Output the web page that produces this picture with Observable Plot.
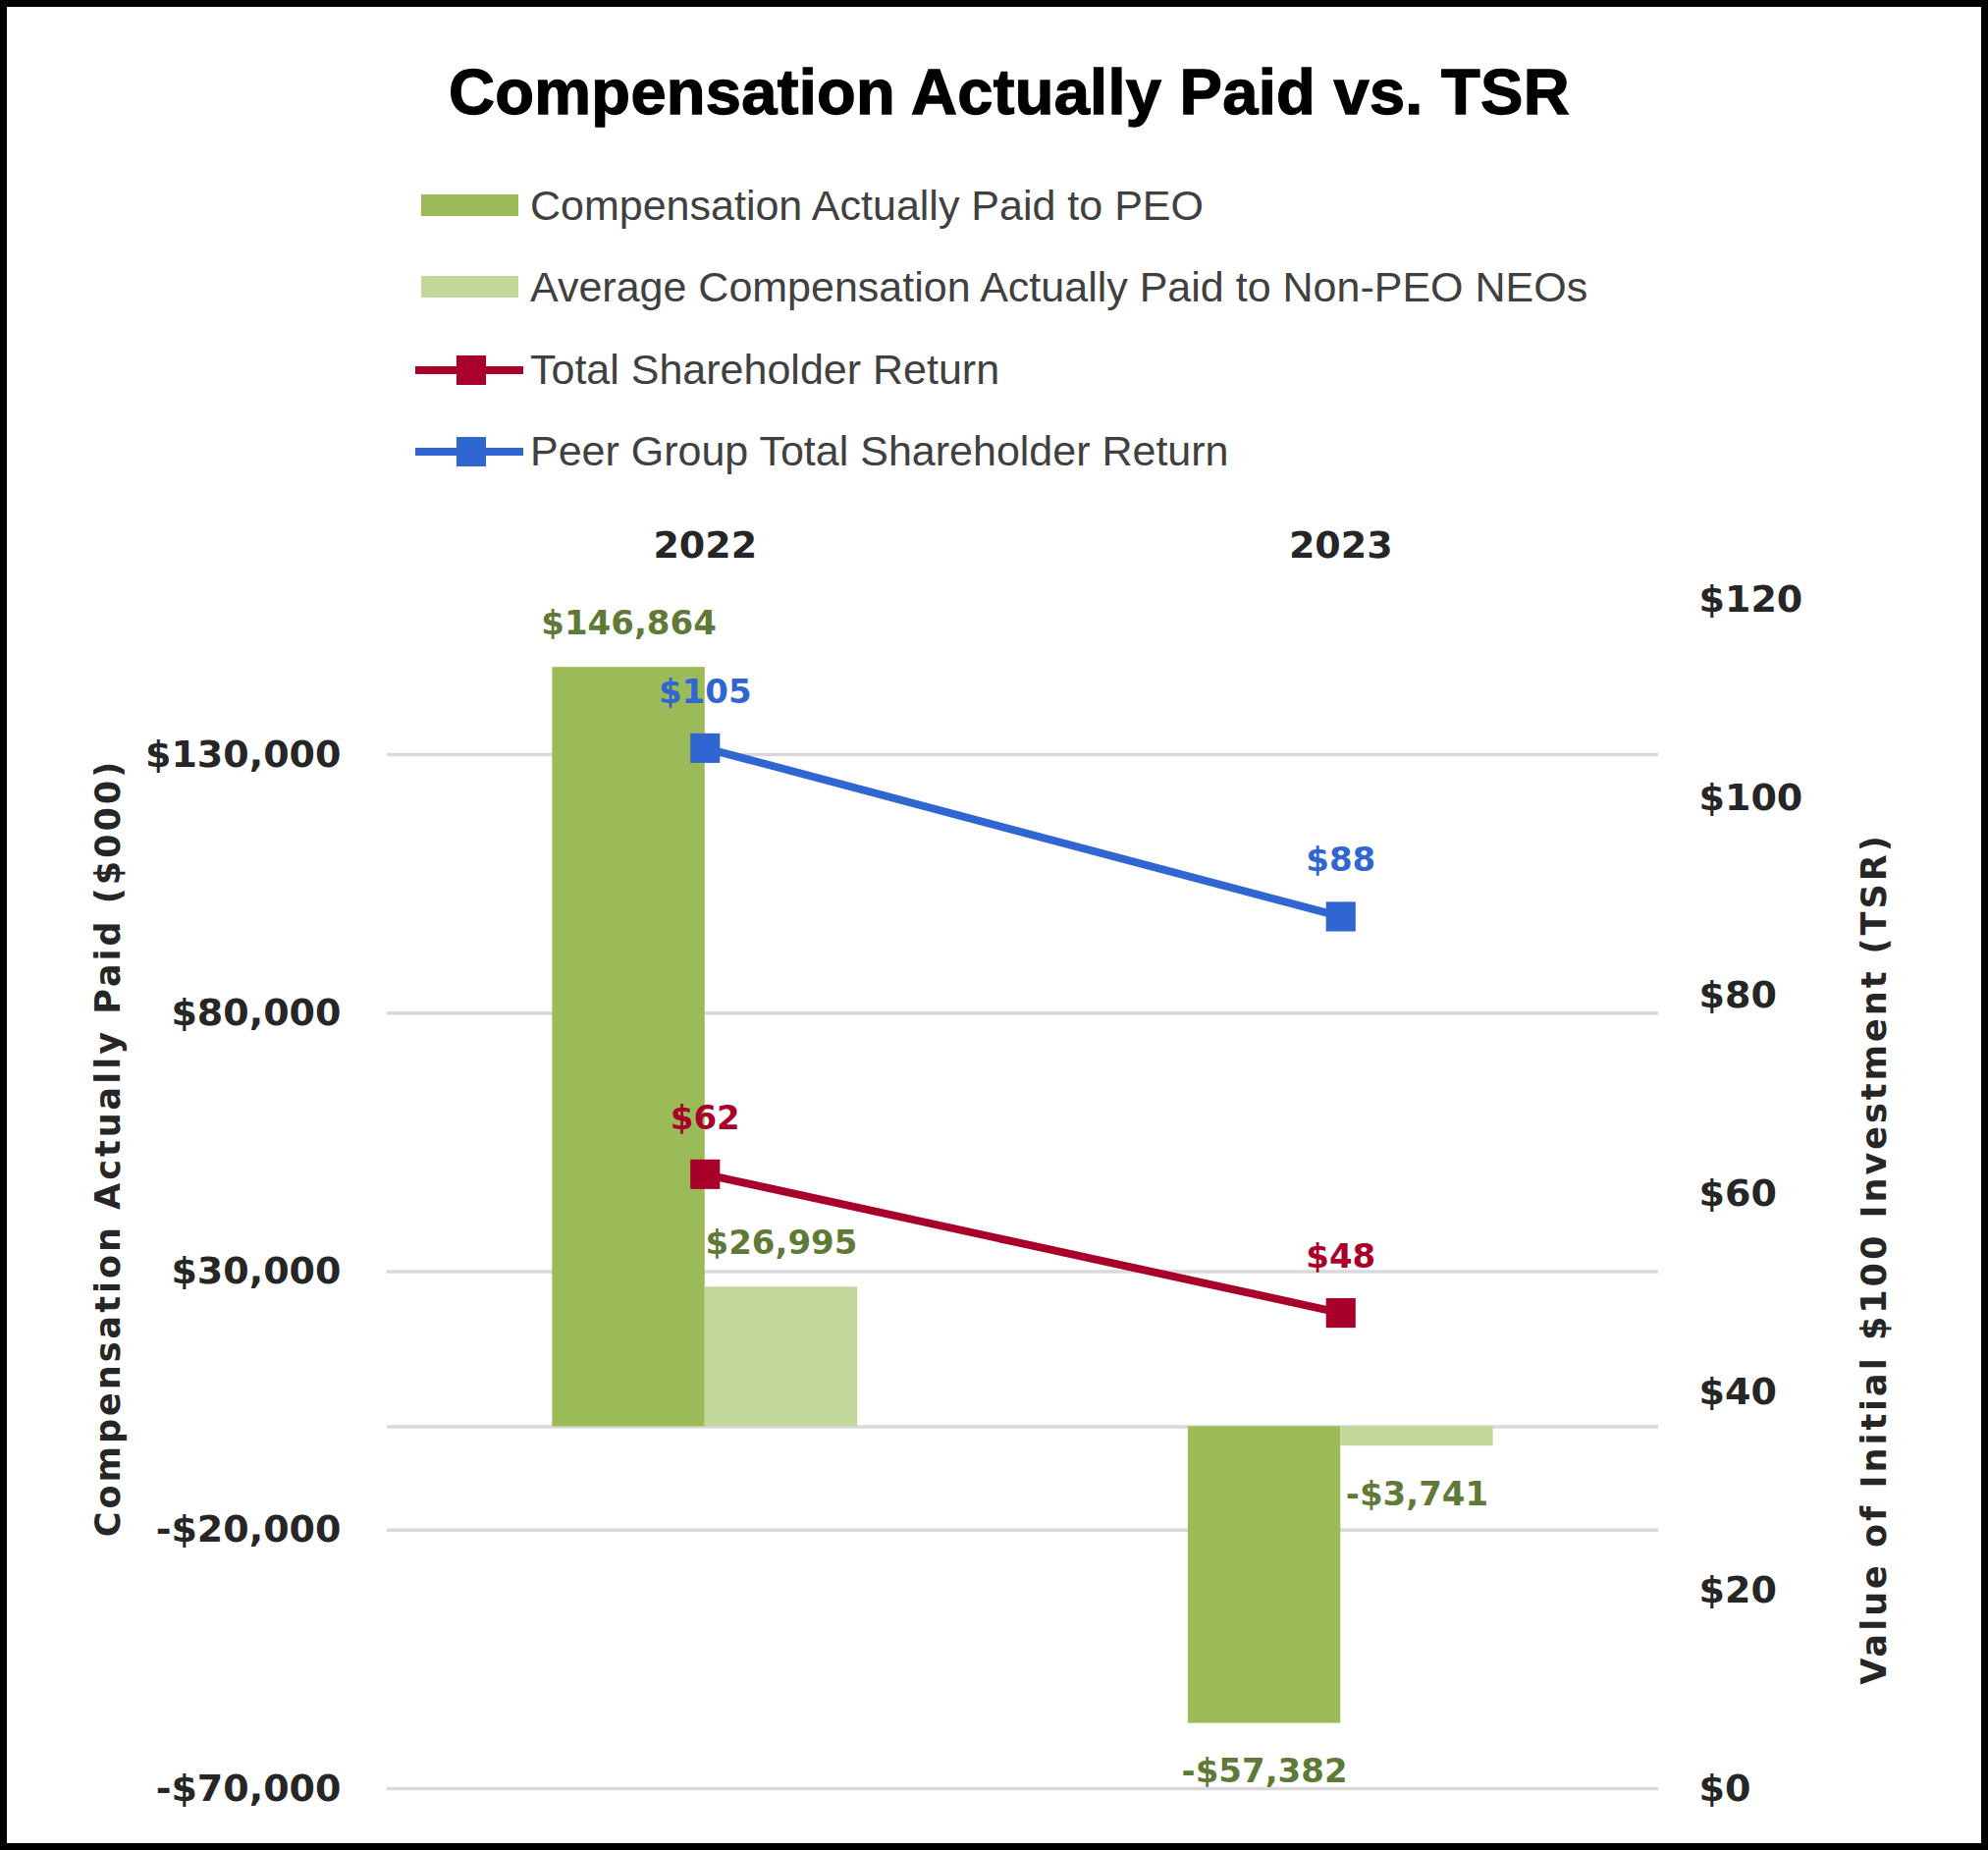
<!DOCTYPE html>
<html>
<head>
<meta charset="utf-8">
<script src="https://cdn.jsdelivr.net/npm/d3@7"></script>
<script src="https://cdn.jsdelivr.net/npm/@observablehq/plot@0.6"></script>
<style>
  html, body { margin: 0; padding: 0; background: #fff; }
  #wrap { position: relative; width: 2025px; height: 1884px; background: #fff; overflow: hidden; }
  #frame { position: absolute; left: 0; top: 0; width: 2025px; height: 1884px; box-sizing: border-box; border: 7px solid #000; pointer-events: none; z-index: 5; }
  #title { position: absolute; left: 1028px; top: 61px; transform: translateX(-50%); white-space: nowrap;
           font-family: "Liberation Sans", Arial, sans-serif; font-weight: bold; font-size: 65px; line-height: 65px;
           color: #000; -webkit-text-stroke: 1.3px #000; letter-spacing: 0.3px; }
  .lg-row { position: absolute; left: 423px; height: 43px; }
  .lg-row svg { position: absolute; left: 0; }
  .lg-text { position: absolute; left: 117px; top: 0; white-space: nowrap; font-family: "Liberation Sans", Arial, sans-serif;
             font-size: 43px; line-height: 43px; color: #404040; }
  #chart { position: absolute; left: 0; top: 500px; }
</style>
</head>
<body>
<div id="wrap">
  <div id="title">Compensation Actually Paid vs. TSR</div>
  <div id="legend"></div>
  <div id="chart"></div>
  <div id="frame"></div>
</div>
<script>
// ---------- data ----------
const years = [2022, 2023];
const peoCap = [146864, -57382];          // Compensation Actually Paid to PEO ($000)
const neoCap = [26995, -3741];            // Average CAP to Non-PEO NEOs ($000)
const tsrValues = [62, 48];               // Total Shareholder Return
const peerTsrValues = [105, 88];          // Peer Group TSR
const seriesNames = [
  "Compensation Actually Paid to PEO",
  "Average Compensation Actually Paid to Non-PEO NEOs",
  "Total Shareholder Return",
  "Peer Group Total Shareholder Return"
];
const leftTicks = [-70000, -20000, 30000, 80000, 130000];
const rightTicks = [0, 20, 40, 60, 80, 100, 120];
const leftDomain = [-70000, 160000];
const rightDomain = [0, 120];
const leftTitle = "Compensation Actually Paid ($000)";
const rightTitle = "Value of Initial $100 Investment (TSR)";

// ---------- styles ----------
const colors = {peo: "#9BBB59", neo: "#C4D79B", tsr: "#A8002A", peer: "#3066D2", barLabel: "#5E7A36"};
const barW = 0.24;

// secondary axis mapping
const toLeft = v => leftDomain[0] + (v - rightDomain[0]) / (rightDomain[1] - rightDomain[0]) * (leftDomain[1] - leftDomain[0]);
const fromLeft = v => rightDomain[0] + (v - leftDomain[0]) / (leftDomain[1] - leftDomain[0]) * (rightDomain[1] - rightDomain[0]);

const fmt = d3.format(",");
const money = v => (v < 0 ? "-$" : "$") + fmt(Math.abs(v));

const peoRows = years.map((y, i) => ({year: y, value: peoCap[i]}));
const neoRows = years.map((y, i) => ({year: y, value: neoCap[i]}));
const tsrRows = years.map((y, i) => ({year: y, value: tsrValues[i]}));
const peerRows = years.map((y, i) => ({year: y, value: peerTsrValues[i]}));

// ---------- legend ----------
const legendTops = [188, 271, 355, 438];
const legend = document.getElementById("legend");
const swatches = [
  `<svg width="110" height="43" style="top:0"><rect x="6" y="10" width="99" height="22" fill="${colors.peo}"/></svg>`,
  `<svg width="110" height="43" style="top:0"><rect x="6" y="10" width="99" height="22" fill="${colors.neo}"/></svg>`,
  `<svg width="112" height="43" style="top:0"><line x1="0" x2="110" y1="22" y2="22" stroke="${colors.tsr}" stroke-width="8"/><rect x="42" y="7" width="30" height="30" fill="${colors.tsr}"/></svg>`,
  `<svg width="112" height="43" style="top:0"><line x1="0" x2="110" y1="22" y2="22" stroke="${colors.peer}" stroke-width="8"/><rect x="42" y="7" width="30" height="30" fill="${colors.peer}"/></svg>`
];
seriesNames.forEach((name, i) => {
  const row = document.createElement("div");
  row.className = "lg-row";
  row.style.top = legendTops[i] + "px";
  row.innerHTML = swatches[i] + `<div class="lg-text">${name}</div>`;
  legend.appendChild(row);
});

// ---------- chart ----------
const labelFont = {fontFamily: "DejaVu Sans", fontWeight: "bold", fontSize: 34};
const titleFont = {fontFamily: "DejaVu Sans", fontWeight: "bold", fontSize: 35, fill: "#262626", textAnchor: "middle", rotate: -90};

const chart = Plot.plot({
  width: 2025,
  height: 1370,
  marginTop: 110,
  marginBottom: 49,
  marginLeft: 394,
  marginRight: 336,
  style: {fontFamily: "'DejaVu Sans', sans-serif", fontSize: "38px", fontWeight: "bold", color: "#262626", background: "transparent", overflow: "visible"},
  x: {type: "linear", domain: [2021.5, 2023.5]},
  y: {domain: leftDomain},
  marks: [
    Plot.ruleY([...leftTicks, 0], {stroke: "#D9D9D9", strokeWidth: 3.5}),
    Plot.rect(peoRows, {x1: d => d.year - barW, x2: d => d.year, y1: () => 0, y2: "value", fill: colors.peo}),
    Plot.rect(neoRows, {x1: d => d.year, x2: d => d.year + barW, y1: () => 0, y2: "value", fill: colors.neo}),
    Plot.line(peerRows, {x: "year", y: d => toLeft(d.value), stroke: colors.peer, strokeWidth: 8}),
    Plot.line(tsrRows, {x: "year", y: d => toLeft(d.value), stroke: colors.tsr, strokeWidth: 8}),
    Plot.dot(peerRows, {x: "year", y: d => toLeft(d.value), symbol: "square", r: 17, fill: colors.peer, stroke: null}),
    Plot.dot(tsrRows, {x: "year", y: d => toLeft(d.value), symbol: "square", r: 17, fill: colors.tsr, stroke: null}),
    // bar labels
    Plot.text(peoRows, {filter: d => d.value >= 0, x: d => d.year - barW / 2, y: "value", text: d => money(d.value), dy: -45, fill: colors.barLabel, ...labelFont}),
    Plot.text(peoRows, {filter: d => d.value < 0, x: d => d.year - barW / 2, y: "value", text: d => money(d.value), dy: 49, fill: colors.barLabel, ...labelFont}),
    Plot.text(neoRows, {filter: d => d.value >= 0, x: d => d.year + barW / 2, y: "value", text: d => money(d.value), dy: -45, fill: colors.barLabel, ...labelFont}),
    Plot.text(neoRows, {filter: d => d.value < 0, x: d => d.year + barW / 2, y: "value", text: d => money(d.value), dy: 49, fill: colors.barLabel, ...labelFont}),
    // line labels
    Plot.text(peerRows, {x: "year", y: d => toLeft(d.value), text: d => "$" + d.value, dy: -57, fill: colors.peer, ...labelFont}),
    Plot.text(tsrRows, {x: "year", y: d => toLeft(d.value), text: d => "$" + d.value, dy: -57, fill: colors.tsr, ...labelFont}),
    // axes
    Plot.axisX(years, {anchor: "top", tickSize: 0, tickPadding: 43, tickFormat: d => String(d), label: null, fontSize: 38, fill: "#262626"}),
    Plot.axisY(leftTicks, {anchor: "left", tickSize: 0, tickPadding: 47, tickFormat: money, label: null, fontSize: 38, fill: "#262626"}),
    Plot.axisY(rightTicks.map(toLeft), {anchor: "right", tickSize: 0, tickPadding: 41, tickFormat: v => "$" + Math.round(fromLeft(v)), label: null, fontSize: 38, fill: "#262626"}),
    // axis titles
    Plot.text([leftTitle], {frameAnchor: "left", text: d => d, dx: -284, dy: -47, ...titleFont}),
    Plot.text([rightTitle], {frameAnchor: "right", text: d => d, dx: 220, dy: 66, ...titleFont})
  ]
});
document.getElementById("chart").appendChild(chart);
d3.select(chart).selectAll("text")
  .filter(function () { return this.textContent === leftTitle || this.textContent === rightTitle; })
  .style("letter-spacing", "3px");
</script>
</body>
</html>
